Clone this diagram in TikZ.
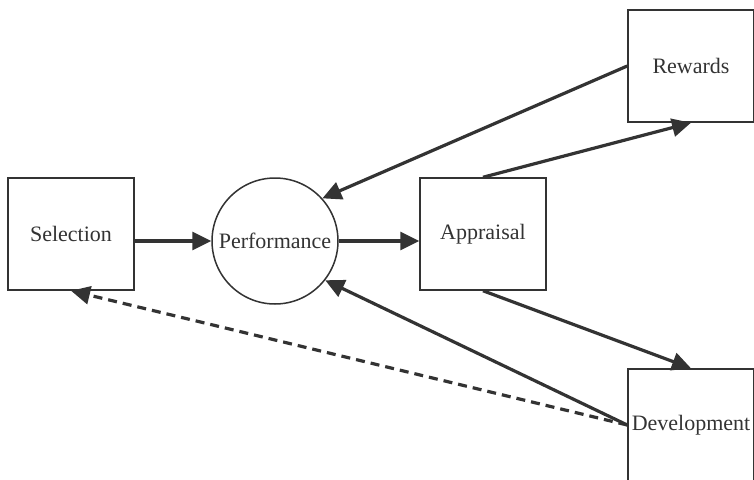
\documentclass[tikz,border=0pt]{standalone}
\usepackage{fontspec}
\setmainfont{Liberation Serif}
\usetikzlibrary{arrows.meta}
\definecolor{ink}{HTML}{333333}
\tikzset{
  stage/.style={draw=ink, line width=1.5pt, minimum width=126pt, minimum height=112pt,
    inner sep=0pt, text=ink, font=\fontsize{22}{26}\selectfont},
  hub/.style={circle, draw=ink, line width=1.5pt, minimum size=126pt, inner sep=0pt,
    text=ink, font=\fontsize{22}{26}\selectfont},
  flow/.style={draw=ink, line width=3.2pt, -{Triangle[length=19pt,width=18pt]}}
}
\begin{document}
\begin{tikzpicture}[x=1pt, y=-1pt]
\useasboundingbox (0,0) rectangle (754,479);

\node[stage] (sel) at (71,234) {Selection};
\node[hub] (perf) at (275,241) {Performance};
\node[stage] (appr) at (483,234) {Appraisal};
\node[stage] (rew) at (691,66) {Rewards};
\node[stage] (dev) at (691,425) {Development};

\draw[flow] (perf.west -| sel.east) -- (perf.west);
\draw[flow] (perf.east) -- (perf.east -| appr.west);
\draw[flow] (appr.north) -- (rew.south);
\draw[flow] (appr.south) -- (dev.north);
\draw[flow] (rew.west) -- (perf.42);
\draw[flow] (dev.west) -- (perf.-38);
\draw[flow, dash pattern=on 9pt off 6pt] (dev.west) -- (sel.south);

\end{tikzpicture}
\end{document}
